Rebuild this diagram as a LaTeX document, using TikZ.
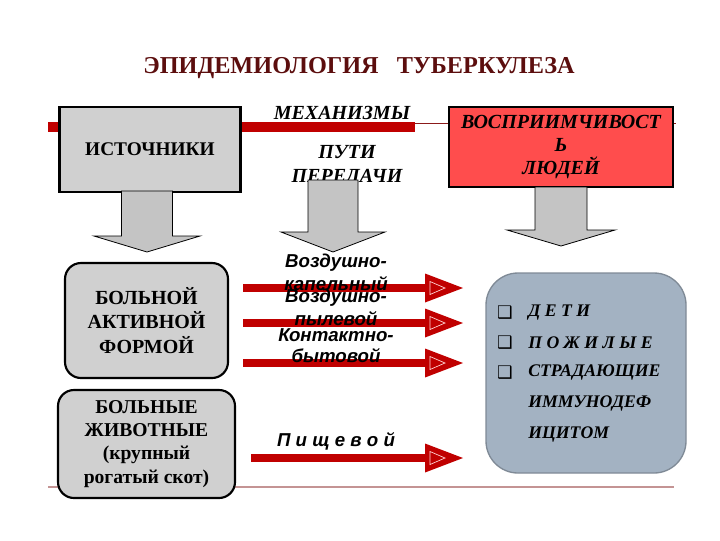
\documentclass[tikz,border=0pt]{standalone}
\usepackage{fontspec}
\usetikzlibrary{calc}
\setmainfont{Liberation Serif}
\newfontfamily\labfont{Liberation Sans}
\newfontfamily\symfont{DejaVu Sans}
\definecolor{titlered}{HTML}{5C0E0E}
\definecolor{barred}{HTML}{C00000}
\definecolor{thinred}{HTML}{8B1A1A}
\definecolor{arrred}{HTML}{C00000}
\definecolor{boxgray}{HTML}{D0D0D0}
\definecolor{arrgray}{HTML}{C4C4C4}
\definecolor{hotred}{HTML}{FF4D4D}
\definecolor{bluegray}{HTML}{A3B2C2}
\definecolor{edgegray}{HTML}{7F8A96}
\definecolor{footline}{HTML}{C49494}
\tikzset{
  sqbox/.style={draw=black, line width=1.6pt, fill=boxgray, inner sep=0pt},
  rbox/.style={draw=black, line width=1.6pt, fill=boxgray, rounded corners=12pt, inner sep=0pt, align=center, font=\bfseries\fontsize{15}{18.4}\selectfont},
  heading/.style={font=\bfseries\itshape\fontsize{15}{17.5}\selectfont, inner sep=0pt},
  pathlab/.style={font=\labfont\bfseries\itshape\fontsize{14}{15}\selectfont, inner sep=0pt},
  item/.style={font=\bfseries\itshape\fontsize{13.3}{15}\selectfont, anchor=west, inner sep=0pt},
  bul/.style={font=\symfont\fontsize{13}{14}\selectfont, inner sep=0pt},
  gblock/.style={draw=black, line width=0.6pt, fill=arrgray},
  redshaft/.style={draw=arrred, line width=5.5pt},
  rhead/.pic={
    \fill[arrred] (0,0) -- (-38,-14.5) -- (-38,14.5) -- cycle;
    \draw[white!85!red, line width=0.5pt] (-33,-6.5) -- (-18,0) -- (-33,6.5) -- cycle;
  }
}
\begin{document}
\begin{tikzpicture}[x=0.75pt,y=-0.75pt]
\useasboundingbox (0,0) rectangle (720,540);

% title
\node[font=\bfseries\fontsize{18.2}{22}\selectfont, text=titlered, inner sep=0pt] (title) at (359,68) {ЭПИДЕМИОЛОГИЯ\ \ \ ТУБЕРКУЛЕЗА};

% top lines
\coordinate (tl0) at (48,127);
\coordinate (tl1) at (415,127);
\coordinate (th0) at (415,123.5);
\coordinate (th1) at (676,123.5);
\draw[thinred, line width=0.7pt] (th0) -- (th1);
\draw[barred, line width=7.5pt] (tl0) -- (tl1);

% bottom line
\coordinate (bl0) at (48,487);
\coordinate (bl1) at (674,487);
\draw[footline, line width=1.5pt] (bl0) -- (bl1);

% headings
\node[heading] (mech) at (342,113) {МЕХАНИЗМЫ};
\node[heading, align=center] (puti) at (347,166) {ПУТИ\\[1pt]ПЕРЕДАЧИ};

% top boxes
\node[sqbox, minimum width=181pt*0.75, minimum height=85pt*0.75, font=\bfseries\fontsize{14.5}{17}\selectfont] (src) at (150,149.5) {ИСТОЧНИКИ};
\node[draw=black, line width=1.6pt, fill=hotred, minimum width=224pt*0.75, minimum height=80pt*0.75, inner sep=0pt, align=center, font=\bfseries\itshape\fontsize{15}{17.5}\selectfont] (sus) at (561,147) {ВОСПРИИМЧИВОСТ\\Ь\\ЛЮДЕЙ};

% gray block arrows
\draw[gblock] (121.5,191) -- (172.5,191) -- (172.5,236) -- (200,236) -- (147,252) -- (94,236) -- (121.5,236) -- cycle;
\draw[gblock] (308,180) -- (358,180) -- (358,232) -- (385,232) -- (333,252) -- (281,232) -- (308,232) -- cycle;
\draw[gblock] (535,187) -- (587,187) -- (587,230) -- (615,230) -- (561,246) -- (507,230) -- (535,230) -- cycle;

% left rounded boxes
\node[rbox, minimum width=163pt*0.75, minimum height=115pt*0.75] (pat) at (146.5,320.5) {БОЛЬНОЙ\\АКТИВНОЙ\\ФОРМОЙ};
\node[rbox, minimum width=177pt*0.75, minimum height=108pt*0.75, font=\bfseries\fontsize{14.7}{17.3}\selectfont] (anim) at (146.5,444) {БОЛЬНЫЕ\\ЖИВОТНЫЕ\\(крупный\\рогатый скот)};

% right box
\node[draw=edgegray, line width=1pt, fill=bluegray, rounded corners=24pt, minimum width=200pt*0.75, minimum height=200pt*0.75] (ppl) at (586,373) {};
\node[bul] (b1) at (505,313) {❑};
\node[bul] (b2) at (505,343) {❑};
\node[bul] (b3) at (505,373) {❑};
\node[item] (t1) at (528,313) {Д Е Т И};
\node[item] (t2) at (528,343) {П О Ж И Л Ы Е};
\node[item] (t3) at (528,373) {СТРАДАЮЩИЕ};
\node[item] (t4) at (528,404) {ИММУНОДЕФ};
\node[item] (t5) at (528,435) {ИЦИТОМ};

% red arrows
\coordinate (r1s) at (243,288); \coordinate (r1e) at (463,288);
\coordinate (r2s) at (243,323); \coordinate (r2e) at (463,323);
\coordinate (r3s) at (243,363); \coordinate (r3e) at (463,363);
\coordinate (r4s) at (251,458); \coordinate (r4e) at (463,458);
\foreach \i in {1,2,3,4} {
  \draw[redshaft] (r\i s) -- ($(r\i e)+(-36,0)$);
  \pic at (r\i e) {rhead};
}

% path labels
\node[pathlab] (l1a) at (336,263) {Воздушно-};
\node[pathlab] (l1b) at (336,284) {капельный};
\node[pathlab] (l2a) at (336,298) {Воздушно-};
\node[pathlab] (l2b) at (336,319) {пылевой};
\node[pathlab] (l3a) at (336,335) {Контактно-};
\node[pathlab] (l3b) at (336,356) {бытовой};
\node[pathlab] (l4) at (336,441) {П и щ е в о й};
\end{tikzpicture}
\end{document}
